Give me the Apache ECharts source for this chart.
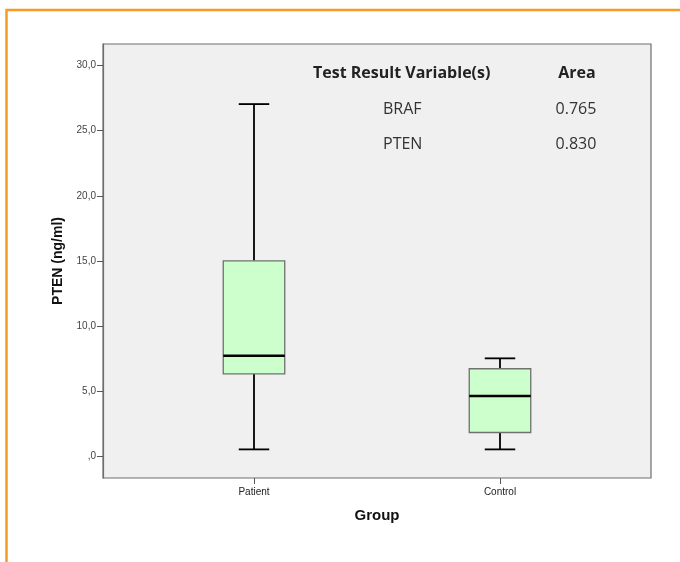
<!DOCTYPE html>
<html>
<head>
<meta charset="utf-8">
<script src="https://cdn.jsdelivr.net/npm/echarts@6/dist/echarts.min.js"></script>
<style>html,body{margin:0;padding:0;background:#fff;}#c{width:680px;height:562px;}</style>
</head>
<body>
<div id="c"></div>
<script>
// ---- data ----
const categories = ['Patient', 'Control'];
const lowerWhisker = [0.5, 0.5];
const q1 = [6.3, 1.8];
const median = [7.7, 4.6];
const q3 = [15.0, 6.7];
const upperWhisker = [27.05, 7.5];
const yTickValues = [0, 5, 10, 15, 20, 25, 30];
const yTickLabels = [',0', '5,0', '10,0', '15,0', '20,0', '25,0', '30,0'];
const tableHeader = ['Test Result Variable(s)', 'Area'];
const tableVars = ['BRAF', 'PTEN'];
const tableAreas = ['0.765', '0.830'];

const Y_MIN = -1.7, Y_MAX = 31.67;

const boxData = categories.map((c, i) => [i, lowerWhisker[i], q1[i], median[i], q3[i], upperWhisker[i]]);

function renderBox(params, api) {
  const idx = api.value(0);
  const band = api.size([1, 0])[0];
  const half = band * 0.125;
  const capHalf = band * 0.062;
  const pLow = api.coord([idx, api.value(1)]);
  const pQ1 = api.coord([idx, api.value(2)]);
  const pMed = api.coord([idx, api.value(3)]);
  const pQ3 = api.coord([idx, api.value(4)]);
  const pHigh = api.coord([idx, api.value(5)]);
  const x = pMed[0];
  const black = {stroke: '#000', lineWidth: 1.8};
  return {
    type: 'group',
    children: [
      {type: 'line', shape: {x1: x, y1: pHigh[1], x2: x, y2: pQ3[1]}, style: black},
      {type: 'line', shape: {x1: x, y1: pQ1[1], x2: x, y2: pLow[1]}, style: black},
      {type: 'line', shape: {x1: x - capHalf, y1: pHigh[1], x2: x + capHalf, y2: pHigh[1]}, style: black},
      {type: 'line', shape: {x1: x - capHalf, y1: pLow[1], x2: x + capHalf, y2: pLow[1]}, style: black},
      {type: 'rect', shape: {x: x - half, y: pQ3[1], width: half * 2, height: pQ1[1] - pQ3[1]},
        style: {fill: '#ccffcc', stroke: '#707070', lineWidth: 1.3}},
      {type: 'line', shape: {x1: x - half, y1: pMed[1], x2: x + half, y2: pMed[1]}, style: {stroke: '#000', lineWidth: 2.6}}
    ]
  };
}

const FONT = 'Arial, "Liberation Sans", sans-serif';
const chart = echarts.init(document.getElementById('c'), null, {renderer: 'canvas'});
chart.setOption({
  animation: false,
  grid: [
    {left: 103, right: 29, top: 44, bottom: 84, show: true, backgroundColor: '#f0f0f0', borderColor: '#6e6e6e', borderWidth: 1.2},
    {left: 131, right: 57, top: 44, bottom: 84}
  ],
  xAxis: [
    {gridIndex: 0, type: 'value', min: 0, max: 1, axisLine: {show: false}, axisTick: {show: false}, axisLabel: {show: false}, splitLine: {show: false}},
    {gridIndex: 1, type: 'category', data: categories,
      axisLine: {show: false, onZero: false},
      axisTick: {show: true, alignWithLabel: true, length: 6, lineStyle: {color: '#555', width: 1}},
      axisLabel: {fontSize: 10, color: '#222', fontFamily: FONT, margin: 9},
      name: 'Group', nameLocation: 'middle', nameGap: 30,
      nameTextStyle: {fontSize: 15, fontWeight: 'bold', color: '#111', fontFamily: FONT},
      splitLine: {show: false}}
  ],
  yAxis: [
    {gridIndex: 0, type: 'value', min: Y_MIN, max: Y_MAX,
      axisLine: {show: true, onZero: false, lineStyle: {color: '#6e6e6e', width: 1.2}},
      axisTick: {show: true, length: 6, customValues: yTickValues, lineStyle: {color: '#555', width: 1}},
      axisLabel: {customValues: yTickValues, fontSize: 10, color: '#444', margin: 7,
        fontFamily: FONT,
        formatter: v => yTickLabels[yTickValues.indexOf(v)] || ''},
      splitLine: {show: false},
      name: 'PTEN (ng/ml)', nameLocation: 'middle', nameGap: 38, nameRotate: 90,
      nameTextStyle: {fontSize: 14, fontWeight: 'bold', color: '#111', fontFamily: FONT}},
    {gridIndex: 1, type: 'value', min: Y_MIN, max: Y_MAX, show: false, splitLine: {show: false}}
  ],
  series: [{
    type: 'custom', xAxisIndex: 1, yAxisIndex: 1,
    renderItem: renderBox,
    encode: {x: 0, y: [1, 2, 3, 4, 5]},
    data: boxData
  }],
  graphic: [
    {type: 'polyline', shape: {points: [[6.5, 562], [6.5, 10], [680, 10]]}, style: {stroke: '#f79b25', lineWidth: 2.5, fill: null}, z: 10},
    {type: 'text', x: 313, y: 73, style: {text: tableHeader[0], font: 'bold 16px "Open Sans", sans-serif', fill: '#222', verticalAlign: 'middle'}, z: 10},
    {type: 'text', x: 577, y: 73, style: {text: tableHeader[1], font: 'bold 16px "Open Sans", sans-serif', fill: '#222', align: 'center', verticalAlign: 'middle'}, z: 10},
    {type: 'text', x: 383, y: 109, style: {text: tableVars[0], font: '16px "Open Sans", sans-serif', fill: '#333', verticalAlign: 'middle'}, z: 10},
    {type: 'text', x: 383, y: 144, style: {text: tableVars[1], font: '16px "Open Sans", sans-serif', fill: '#333', verticalAlign: 'middle'}, z: 10},
    {type: 'text', x: 576, y: 109, style: {text: tableAreas[0], font: '16px "Open Sans", sans-serif', fill: '#333', align: 'center', verticalAlign: 'middle'}, z: 10},
    {type: 'text', x: 576, y: 144, style: {text: tableAreas[1], font: '16px "Open Sans", sans-serif', fill: '#333', align: 'center', verticalAlign: 'middle'}, z: 10}
  ]
});
</script>
</body>
</html>
